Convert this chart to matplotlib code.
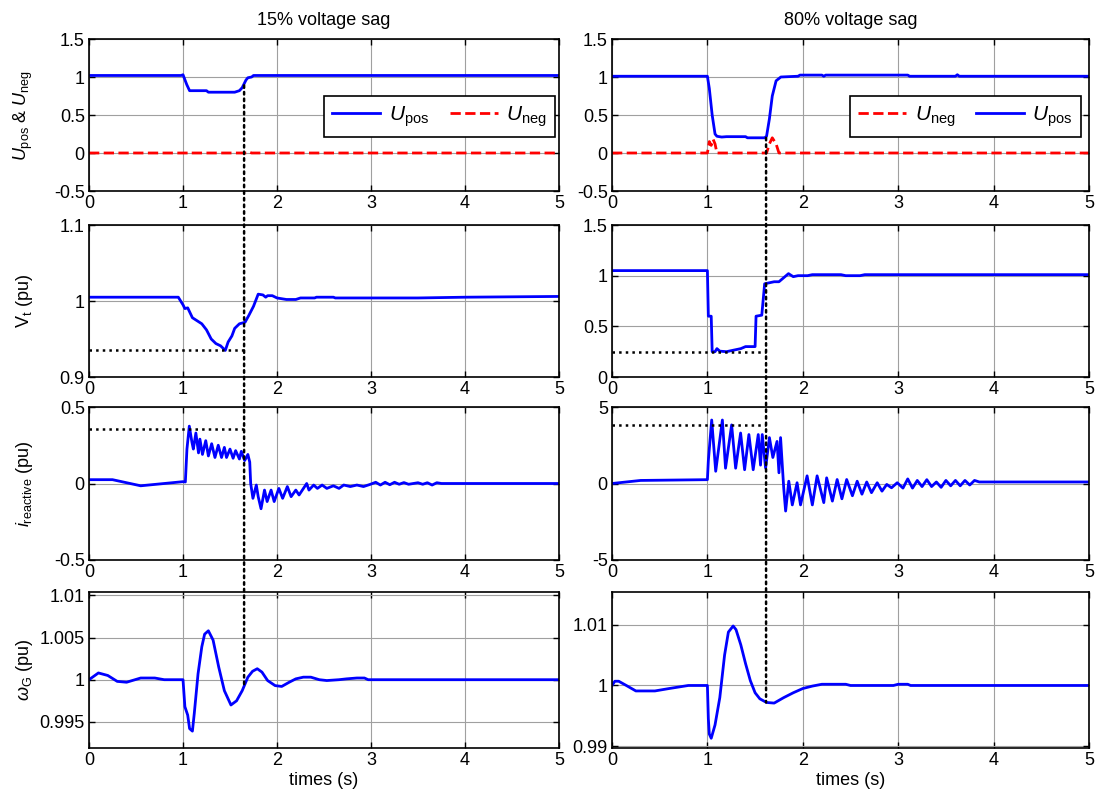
import numpy as np
import matplotlib.pyplot as plt
from matplotlib.patches import ConnectionPatch

plt.rcParams['font.family'] = ['Liberation Sans', 'DejaVu Sans']
plt.rcParams['mathtext.fontset'] = 'custom'
plt.rcParams['mathtext.rm'] = 'Liberation Sans'
plt.rcParams['mathtext.it'] = 'Liberation Sans:italic'
plt.rcParams['mathtext.bf'] = 'Liberation Sans:bold'
plt.rcParams['font.size'] = 13

#%% 15% SAG DATA

t_upos15 = [0, 0.98, 1.0, 1.04, 1.07, 1.25, 1.27, 1.55, 1.6, 1.63, 1.67, 1.69, 1.73, 1.75, 5]
upos15 = [1.02, 1.02, 1.03, 0.9, 0.82, 0.82, 0.80, 0.80, 0.82, 0.86, 0.96, 0.99, 1.0, 1.02, 1.02]
t_uneg15 = [0, 1.05, 1.07, 1.09, 1.68, 1.70, 1.73, 5]
uneg15 = [0, 0, 0.01, 0, 0, 0.015, 0, 0]

t_vt15 = [0, 0.95, 1.0, 1.02, 1.05, 1.1, 1.15, 1.2, 1.25, 1.3, 1.35, 1.4, 1.45, 1.48, 1.52,
          1.55, 1.6, 1.66, 1.7, 1.75, 1.8, 1.85, 1.88, 1.9, 1.95, 2.0, 2.1, 2.2, 2.25, 2.4,
          2.42, 2.6, 2.62, 3.5, 4.0, 5.0]
vt15 = [1.005, 1.005, 0.995, 0.990, 0.991, 0.978, 0.974, 0.970, 0.962, 0.950, 0.944, 0.941, 0.935, 0.946, 0.954,
        0.964, 0.970, 0.972, 0.981, 0.993, 1.009, 1.008, 1.005, 1.007, 1.007, 1.004, 1.002, 1.002, 1.004, 1.004,
        1.005, 1.005, 1.004, 1.004, 1.005, 1.006]

t_iq15 = [0, 0.25, 0.55, 1.0, 1.025, 1.042, 1.067, 1.095, 1.11, 1.137, 1.165, 1.18, 1.207, 1.242, 1.27,
          1.305, 1.34, 1.375, 1.41, 1.44, 1.463, 1.5, 1.533, 1.56, 1.6, 1.62, 1.656, 1.69, 1.71, 1.72,
          1.744, 1.78, 1.80, 1.83, 1.867, 1.895, 1.937, 1.97, 2.02, 2.06, 2.11, 2.15, 2.2, 2.235, 2.316,
          2.34, 2.39, 2.43, 2.48, 2.53, 2.6, 2.66, 2.71, 2.78, 2.85, 2.92, 2.99, 3.05, 3.1, 3.15,
          3.2, 3.25, 3.3, 3.35, 3.4, 3.5, 3.55, 3.6, 3.65, 3.7, 3.75, 5.0]
iq15 = [0.025, 0.025, -0.015, 0.012, 0.01, 0.225, 0.375, 0.27, 0.225, 0.33, 0.2, 0.29, 0.19, 0.28, 0.18,
        0.26, 0.17, 0.25, 0.17, 0.236, 0.17, 0.225, 0.165, 0.215, 0.16, 0.21, 0.15, 0.19, 0.14, 0.0,
        -0.097, -0.01, -0.086, -0.165, -0.043, -0.118, -0.043, -0.118, -0.032, -0.097, -0.02, -0.086, -0.043, -0.075, 0.0,
        -0.043, -0.01, -0.032, -0.01, -0.032, -0.015, -0.032, -0.01, -0.02, -0.01, -0.02, -0.006, 0.008, -0.01, 0.008,
        -0.008, 0.008, -0.005, 0.006, -0.005, 0.005, -0.005, 0.005, -0.01, 0.005, 0.0, 0.0]

t_w15 = [0, 0.1, 0.2, 0.3, 0.4, 0.55, 0.7, 0.8, 1.0, 1.02, 1.05, 1.07, 1.1, 1.12, 1.16,
         1.2, 1.23, 1.27, 1.32, 1.38, 1.44, 1.51, 1.57, 1.63, 1.69, 1.74, 1.79, 1.84, 1.9, 1.98,
         2.05, 2.13, 2.2, 2.28, 2.36, 2.45, 2.53, 2.66, 2.74, 2.85, 2.93, 2.97, 5.0]
w15 = [1.0, 1.0008, 1.0005, 0.9998, 0.9997, 1.0002, 1.0002, 1.0, 1.0, 0.9968, 0.9958, 0.9942, 0.9939, 0.996, 1.0007,
       1.0039, 1.0054, 1.0058, 1.0047, 1.0015, 0.9987, 0.997, 0.9975, 0.9987, 1.0003, 1.001, 1.0013, 1.0009, 0.9999, 0.9993,
       0.9992, 0.9997, 1.0001, 1.0003, 1.0003, 1.0, 0.9999, 1.0, 1.0001, 1.0002, 1.0002, 1.0, 1.0]

#%% 80% SAG DATA

t_upos80 = [0, 1.0, 1.02, 1.05, 1.08, 1.1, 1.15, 1.2, 1.4, 1.42, 1.6, 1.62, 1.65, 1.68, 1.72,
            1.77, 1.95, 1.97, 2.2, 2.22, 2.24, 3.1, 3.12, 3.6, 3.62, 3.64, 5]
upos80 = [1.01, 1.01, 0.85, 0.5, 0.25, 0.22, 0.21, 0.215, 0.215, 0.2, 0.2, 0.22, 0.45, 0.75, 0.95,
          1.0, 1.01, 1.025, 1.025, 1.01, 1.025, 1.025, 1.01, 1.01, 1.03, 1.01, 1.01]
t_uneg80 = [0, 1.0, 1.02, 1.04, 1.06, 1.08, 1.1, 1.62, 1.65, 1.68, 1.72, 1.75, 5]
uneg80 = [0, 0, 0.15, 0.1, 0.18, 0.12, 0, 0, 0.12, 0.2, 0.12, 0, 0]

t_vt80 = [0, 1.0, 1.01, 1.04, 1.05, 1.08, 1.1, 1.13, 1.2, 1.25, 1.3, 1.35, 1.4, 1.5, 1.51,
          1.57, 1.6, 1.65, 1.7, 1.75, 1.8, 1.85, 1.9, 1.95, 2.05, 2.1, 2.4, 2.45, 2.6, 2.65, 5]
vt80 = [1.05, 1.05, 0.6, 0.6, 0.25, 0.25, 0.28, 0.255, 0.25, 0.26, 0.27, 0.28, 0.3, 0.3, 0.6,
        0.61, 0.92, 0.93, 0.94, 0.94, 0.98, 1.02, 0.99, 1.0, 1.0, 1.01, 1.01, 1.0, 1.0, 1.01, 1.01]

t_iq80 = [0, 0.3, 1.0, 1.01, 1.045, 1.087, 1.157, 1.19, 1.254, 1.296, 1.348, 1.39, 1.435, 1.48, 1.533,
          1.557, 1.575, 1.61, 1.65, 1.686, 1.73, 1.75, 1.767, 1.8, 1.82, 1.853, 1.89, 1.94, 1.976, 2.045,
          2.1, 2.15, 2.22, 2.25, 2.31, 2.36, 2.41, 2.46, 2.52, 2.57, 2.62, 2.67, 2.72, 2.78, 2.83,
          2.88, 2.93, 2.99, 3.05, 3.1, 3.15, 3.2, 3.25, 3.3, 3.35, 3.4, 3.45, 3.5, 3.55, 3.6,
          3.65, 3.7, 3.75, 3.8, 3.85, 5.0]
iq80 = [0.0, 0.2, 0.25, 1.5, 4.15, 0.8, 4.15, 1.0, 3.83, 1.0, 3.3, 0.9, 3.2, 0.9, 3.2,
        1.2, 3.2, 1.0, 3.0, 1.7, 2.75, 0.7, 3.0, -0.3, -1.8, 0.15, -1.4, 0.05, -1.4, 0.5,
        -1.4, 0.5, -1.25, 0.37, -1.15, 0.26, -1.0, 0.26, -0.8, 0.15, -0.7, 0.1, -0.6, 0.05, -0.5,
        -0.06, -0.28, 0.05, -0.3, 0.3, -0.3, 0.2, -0.2, 0.25, -0.2, 0.1, -0.25, 0.2, -0.15, 0.2,
        -0.15, 0.2, -0.1, 0.2, 0.1, 0.1]

t_w80 = [0, 0.03, 0.07, 0.15, 0.25, 0.45, 0.6, 0.8, 1.0, 1.01, 1.02, 1.04, 1.08, 1.13, 1.18,
         1.22, 1.27, 1.3, 1.35, 1.4, 1.45, 1.5, 1.55, 1.62, 1.7, 1.8, 1.9, 2.0, 2.1, 2.2,
         2.45, 2.5, 2.95, 3.0, 3.1, 3.13, 5.0]
w80 = [1.0, 1.0007, 1.0007, 1.0, 0.9991, 0.9991, 0.9995, 1.0, 1.0, 0.9945, 0.992, 0.9913, 0.9935, 0.998, 1.005,
       1.0088, 1.0098, 1.0092, 1.0067, 1.0036, 1.0008, 0.9988, 0.9978, 0.9972, 0.9971, 0.998, 0.9988, 0.9995, 0.9999, 1.0002,
       1.0002, 1.0, 1.0, 1.0002, 1.0002, 1.0, 1.0]

#%% MARKERS (end of fault / extreme values)

t_clear = [1.65, 1.615]
vt_min = [0.935, 0.245]
iq_max = [0.355, 3.85]
upos_clear = [0.89, 0.2]
w_clear = [0.9991, 0.9972]

ylab = [r'$\mathit{U}_{\rm pos}$ & $\mathit{U}_{\rm neg}$', r'V$_{\rm t}$ (pu)',
        r'$\mathit{i}_{\rm reactive}$ (pu)', r'$\omega_{\rm G}$ (pu)']
titles = ['15% voltage sag', '80% voltage sag']

#%% PLOT

fig = plt.figure(figsize=(10.99, 8.07), dpi=100)
W, H = 1099., 807.
cols = [(89, 559), (612, 1089)]
rows = [(39, 191), (225, 377), (407, 560), (592, 748)]
axs = []
for r in range(4):
    line = []
    for c in range(2):
        x0, x1 = cols[c]
        y0, y1 = rows[r]
        ax = fig.add_axes([x0 / W, 1 - y1 / H, (x1 - x0) / W, (y1 - y0) / H])
        line.append(ax)
    axs.append(line)

blue = (0, 0, 1)
red = (1, 0, 0)
lw = 2.0

data = [
    [(t_upos15, upos15, t_uneg15, uneg15), (t_vt15, vt15), (t_iq15, iq15), (t_w15, w15)],
    [(t_upos80, upos80, t_uneg80, uneg80), (t_vt80, vt80), (t_iq80, iq80), (t_w80, w80)],
]

for c in range(2):
    d = data[c]
    ax = axs[0][c]
    h1, = ax.plot(d[0][0], d[0][1], color=blue, lw=lw, label=r'$\mathit{U}_{\rm pos}$')
    h2, = ax.plot(d[0][2], d[0][3], color=red, lw=lw, ls='--', label=r'$\mathit{U}_{\rm neg}$')
    handles = [h1, h2] if c == 0 else [h2, h1]
    leg = ax.legend(handles=handles, ncol=2, loc='upper right',
                    bbox_to_anchor=(0.991 if c == 0 else 0.983, 0.625), borderaxespad=0,
                    fancybox=False, framealpha=1, edgecolor='k', handlelength=2.3,
                    handletextpad=0.4, columnspacing=1.0, borderpad=0.4, fontsize=15)
    leg.get_frame().set_linewidth(1.2)
    ax.set_ylim(-0.5, 1.5)
    ax.set_yticks([-0.5, 0, 0.5, 1, 1.5])
    ax.set_yticklabels(['-0.5', '0', '0.5', '1', '1.5'])
    ax.set_title(titles[c], fontsize=13, pad=10)

    ax = axs[1][c]
    ax.plot(d[1][0], d[1][1], color=blue, lw=lw)
    ax.plot([0, t_clear[c]], [vt_min[c], vt_min[c]], color='k', ls=':', lw=1.8)
    if c == 0:
        ax.set_ylim(0.9, 1.1)
        ax.set_yticks([0.9, 1.0, 1.1])
        ax.set_yticklabels(['0.9', '1', '1.1'])
    else:
        ax.set_ylim(0, 1.5)
        ax.set_yticks([0, 0.5, 1, 1.5])
        ax.set_yticklabels(['0', '0.5', '1', '1.5'])

    ax = axs[2][c]
    ax.plot(d[2][0], d[2][1], color=blue, lw=lw)
    ax.plot([0, t_clear[c]], [iq_max[c], iq_max[c]], color='k', ls=':', lw=1.8)
    if c == 0:
        ax.set_ylim(-0.5, 0.5)
        ax.set_yticks([-0.5, 0, 0.5])
        ax.set_yticklabels(['-0.5', '0', '0.5'])
    else:
        ax.set_ylim(-5, 5)
        ax.set_yticks([-5, 0, 5])
        ax.set_yticklabels(['-5', '0', '5'])

    ax = axs[3][c]
    ax.plot(d[3][0], d[3][1], color=blue, lw=lw)
    if c == 0:
        ax.set_ylim(0.9919, 1.0104)
        ax.set_yticks([0.995, 1.0, 1.005, 1.01])
        ax.set_yticklabels(['0.995', '1', '1.005', '1.01'])
    else:
        ax.set_ylim(0.9897, 1.0154)
        ax.set_yticks([0.99, 1.0, 1.01])
        ax.set_yticklabels(['0.99', '1', '1.01'])
    ax.set_xlabel('times (s)', fontsize=13, labelpad=2)

for r in range(4):
    for c in range(2):
        ax = axs[r][c]
        ax.set_xlim(0, 5)
        ax.set_xticks([0, 1, 2, 3, 4, 5])
        ax.grid(True, color='#a0a0a0', lw=0.8, ls='-')
        ax.set_axisbelow(True)
        ax.tick_params(direction='in', top=True, right=True, length=4, width=1,
                       labelsize=13, pad=3)
        for s in ax.spines.values():
            s.set_linewidth(1.2)
    axs[r][0].set_ylabel(ylab[r], fontsize=13)
    axs[r][0].yaxis.set_label_coords(-0.115, 0.5)

# dotted line marking fault clearing, drawn through the whole column
for c in range(2):
    con = ConnectionPatch(xyA=(t_clear[c], upos_clear[c]), coordsA=axs[0][c].transData,
                          xyB=(t_clear[c], w_clear[c]), coordsB=axs[3][c].transData,
                          color='k', ls=':', lw=1.8)
    fig.add_artist(con)

plt.savefig('out.png', dpi=100)
